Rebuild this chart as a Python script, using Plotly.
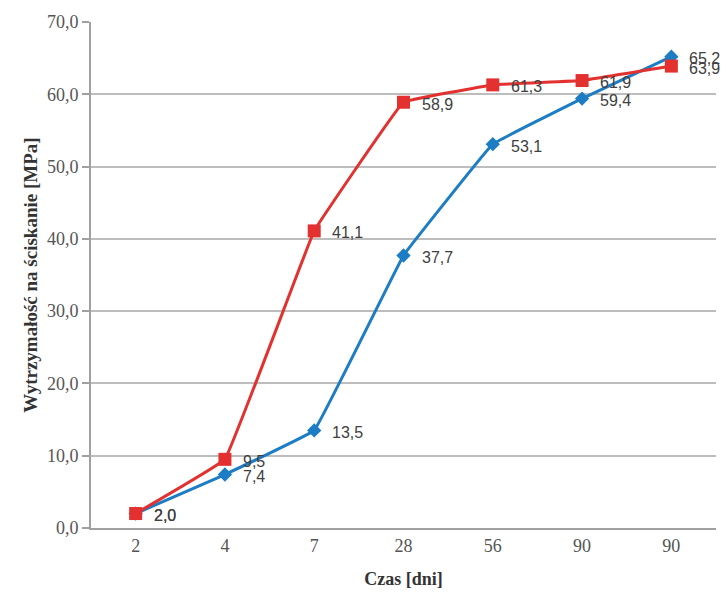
import plotly.graph_objects as go

# Curing time categories (days) and compressive strength values [MPa]
days = ["2", "4", "7", "28", "56", "90", "90"]
strength_blue = [2.0, 7.4, 13.5, 37.7, 53.1, 59.4, 65.2]
strength_red = [2.0, 9.5, 41.1, 58.9, 61.3, 61.9, 63.9]
y_ticks = [0, 10, 20, 30, 40, 50, 60, 70]

BLUE = "#1c7cc4"
RED = "#e2312f"

pos = list(range(len(days)))

fig = go.Figure()
fig.add_trace(go.Scatter(
    x=pos, y=strength_blue, mode="lines+markers",
    line=dict(color=BLUE, width=3, shape="spline", smoothing=0.15),
    marker=dict(symbol="diamond", size=11, color=BLUE),
    showlegend=False, hoverinfo="skip",
))
fig.add_trace(go.Scatter(
    x=pos, y=strength_red, mode="lines+markers",
    line=dict(color=RED, width=3, shape="spline", smoothing=0.15),
    marker=dict(symbol="square", size=13, color=RED),
    showlegend=False, hoverinfo="skip",
))

# value labels to the right of each point
for series in (strength_blue, strength_red):
    for xi, v in zip(pos, series):
        fig.add_annotation(
            x=xi, y=v, text=f"{v:.1f}".replace(".", ","),
            showarrow=False, xanchor="left", yanchor="middle",
            xshift=16, yshift=-2,
            font=dict(family="Liberation Sans", size=16, color="#404040"),
        )

fig.update_layout(
    width=726, height=592,
    margin=dict(l=91, r=10, t=22, b=64),
    paper_bgcolor="white", plot_bgcolor="white",
    separators=", ",
    font=dict(family="Liberation Serif", color="#555555"),
)
fig.update_xaxes(
    range=[-0.5, len(days) - 0.5],
    tickvals=pos, ticktext=days,
    showgrid=False, zeroline=False, automargin=False,
    showline=True, linecolor="#a0a0a0", linewidth=2,
    ticks="", tickfont=dict(family="Liberation Serif", size=18, color="#555555"),
    title=dict(text="<b>Czas [dni]</b>", standoff=18,
               font=dict(family="Liberation Serif", size=18, color="#333333")),
)
fig.update_yaxes(
    range=[0, 70], tickvals=y_ticks, tickformat=".1f",
    showgrid=True, gridcolor="#bdbdbd", gridwidth=1.5,
    zeroline=False,
    showline=True, linecolor="#a0a0a0", linewidth=2,
    ticks="outside", ticklen=7, tickcolor="#a0a0a0", tickwidth=2,
    tickfont=dict(family="Liberation Serif", size=18, color="#555555"),
    title=dict(text="<b>Wytrzymałość na ściskanie [MPa]</b>", standoff=4,
               font=dict(family="Liberation Serif", size=19, color="#333333")),
)

fig.write_html("out.html")
